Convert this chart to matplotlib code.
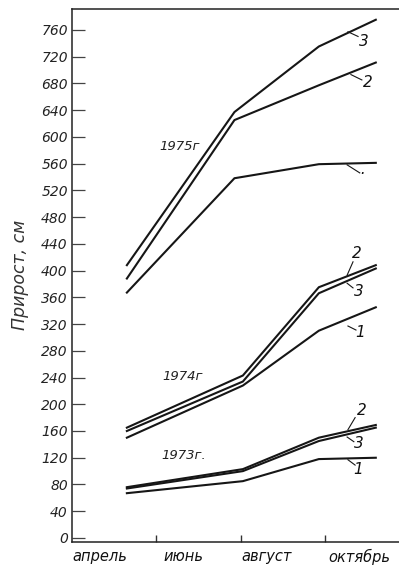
import matplotlib
matplotlib.use("Agg")
import matplotlib.pyplot as plt

# months as numbers (4 = start of April)
x_1975 = [5.3, 7.85, 9.85, 11.2]
x_other = [5.3, 8.05, 9.85, 11.2]

y1975_1 = [367, 538, 559, 561]
y1975_2 = [388, 625, 677, 711]
y1975_3 = [408, 637, 735, 775]

y1974_1 = [150, 228, 310, 345]
y1974_2 = [165, 243, 375, 408]
y1974_3 = [160, 234, 366, 403]

y1973_1 = [67, 85, 118, 120]
y1973_2 = [76, 103, 150, 169]
y1973_3 = [74, 100, 145, 165]

month_labels = ["апрель", "июнь", "август", "октябрь"]
month_label_pos = [4.66, 6.63, 8.62, 10.82]
month_ticks = [6, 8, 10]
y_ticks = list(range(0, 761, 40))

ink = "#161616"
lw = 1.5

fig = plt.figure(figsize=(3.99, 5.66), dpi=100)
ax = fig.add_axes([0.1805, 0.0424, 0.8195, 0.9416])

for xs, ys in [(x_1975, y1975_1), (x_1975, y1975_2), (x_1975, y1975_3),
               (x_other, y1974_1), (x_other, y1974_2), (x_other, y1974_3),
               (x_other, y1973_1), (x_other, y1973_2), (x_other, y1973_3)]:
    ax.plot(xs, ys, color=ink, lw=lw, solid_joinstyle="miter")

ax.set_xlim(4.0, 11.75)
ax.set_ylim(-6, 791)

ax.set_yticks(y_ticks)
ax.set_yticklabels([str(v) for v in y_ticks], fontsize=10, style="italic", color="#222222")
ax.tick_params(axis="y", direction="in", length=9, width=0.9, pad=3, colors="#444444", labelcolor="#222222")

ax.set_xticks(month_label_pos)
ax.set_xticklabels(month_labels, fontsize=10.5, style="italic", color="#111111")
ax.set_xticks(month_ticks, minor=True)
ax.tick_params(axis="x", which="major", direction="in", length=0, pad=5)
ax.tick_params(axis="x", which="minor", direction="in", length=5, width=1.0, color="#333333")

ax.spines["right"].set_visible(False)
for s in ["left", "bottom", "top"]:
    ax.spines[s].set_color("#222222")
    ax.spines[s].set_linewidth(1.1)

fig.text(0.05, 0.515, "Прирост, см", rotation=90, ha="center", va="center",
         fontsize=12.5, style="italic", color="#333333")

# year labels
ax.text(6.54, 586, "1975г", fontsize=9.5, style="italic", ha="center", va="center", color="#222222")
ax.text(6.61, 242, "1974г", fontsize=9.5, style="italic", ha="center", va="center", color="#222222")
ax.text(6.65, 123, "1973г.", fontsize=9.5, style="italic", ha="center", va="center", color="#222222")

# curve numbers with leader strokes
leaders = [
    ((10.54, 757), (10.78, 750), (10.92, 742), "3"),
    ((10.61, 693), (10.87, 685), (11.0, 681), "2"),
    ((10.52, 558), (10.82, 546), (10.86, 544), "·"),
    ((10.52, 393), (10.66, 413), (10.74, 425), "2"),
    ((10.52, 381), (10.66, 374), (10.79, 368), "3"),
    ((10.54, 317), (10.73, 311), (10.83, 307), "1"),
    ((10.54, 162), (10.71, 180), (10.86, 190), "2"),
    ((10.52, 151), (10.68, 144), (10.79, 142), "3"),
    ((10.54, 117), (10.71, 109), (10.79, 102), "1"),
]
for p0, p1, pt, lab in leaders:
    ax.plot([p0[0], p1[0]], [p0[1], p1[1]], color=ink, lw=0.8)
    ax.text(pt[0], pt[1], lab, fontsize=11, style="italic", ha="center", va="center", color="#111111")

fig.savefig("out.png", dpi=100, facecolor="white")
